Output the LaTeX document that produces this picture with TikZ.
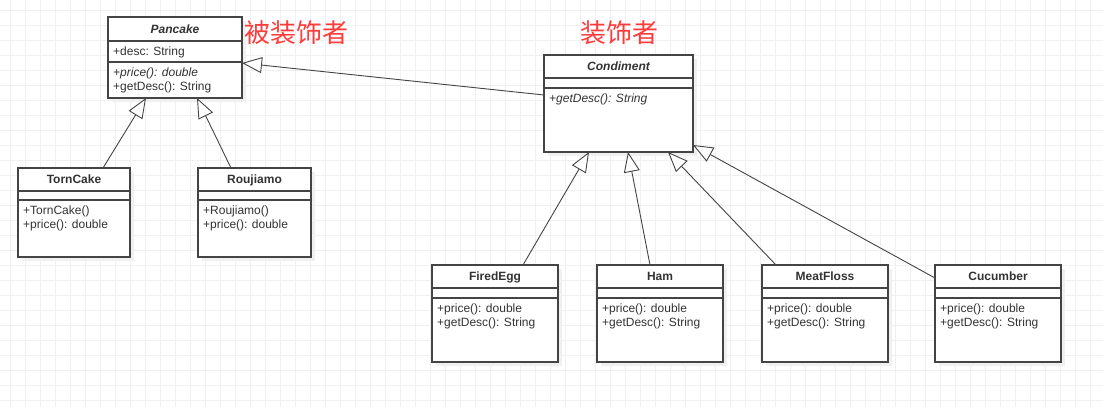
\documentclass[tikz,border=0pt]{standalone}
\usepackage{fontspec}
\setmainfont{Liberation Sans}
\newfontfamily\cjk{Noto Sans CJK SC}
\usetikzlibrary{positioning,calc,arrows.meta,shadows}
\definecolor{umlline}{HTML}{444444}
\definecolor{umltext}{HTML}{333333}
\definecolor{notered}{HTML}{FF3B3B}
\definecolor{gridgray}{HTML}{F0F0F0}

\begin{document}
\begin{tikzpicture}[x=1pt,y=-1pt,
				classbox/.style={draw=umlline,line width=1.1pt,fill=white,anchor=north west,inner sep=0pt,outer sep=0pt,
					drop shadow={shadow xshift=4pt,shadow yshift=-4pt,fill=black!6,opacity=1}},
				divider/.style={draw=umlline,line width=1.1pt},
				classname/.style={font=\fontsize{12}{14}\selectfont\bfseries,text=umltext,inner sep=0pt,text height=9pt,text depth=2.5pt},
				members/.style={font=\fontsize{12}{14}\selectfont,text=umltext,align=left,inner sep=0pt},
				inherit/.style={draw=umlline,line width=0.9pt,-{Triangle[length=20pt,width=16pt,fill=white]}},
				note/.style={font=\cjk\fontsize{26}{30}\selectfont,text=notered,inner sep=0pt},
				gridline/.style={draw=gridgray,line width=1pt}]
				\fill[white] (0,0) rectangle (1103,407);
				\useasboundingbox (0,0) rectangle (1103,407);
				\foreach \gx in {10,25,...,1100} \draw[gridline] (\gx,0) -- (\gx,407);
				\foreach \gy in {10,25,...,400} \draw[gridline] (0,\gy) -- (1103,\gy);

				% component side
				\node[classbox,minimum width=134pt,minimum height=81pt] (pancake) at (108,17) {};
				\draw[divider] ([yshift=-24pt]pancake.north west) -- ([yshift=-24pt]pancake.north east)
					([yshift=-45pt]pancake.north west) -- ([yshift=-45pt]pancake.north east);
				\node[classname] (pancakename) at ([yshift=-13pt]pancake.north) {\itshape Pancake};
				\node[members] (pancakeattr) [below right=29.5pt and 5pt of pancake.north west] {+desc: String};
				\node[members] (pancakeops)  [below right=50.5pt and 5pt of pancake.north west] {{\itshape +price(): double}\\+getDesc(): String};

				\node[classbox,minimum width=112pt,minimum height=89pt] (torncake) at (18,168) {};
				\draw[divider] ([yshift=-23pt]torncake.north west) -- ([yshift=-23pt]torncake.north east)
					([yshift=-32pt]torncake.north west) -- ([yshift=-32pt]torncake.north east);
				\node[classname] (torncakename) at ([yshift=-12.5pt]torncake.north) {TornCake};
				\node[members] (torncakeops) [below right=37.5pt and 5pt of torncake.north west] {+TornCake()\\+price(): double};

				\node[classbox,minimum width=113pt,minimum height=89pt] (roujiamo) at (198,168) {};
				\draw[divider] ([yshift=-23pt]roujiamo.north west) -- ([yshift=-23pt]roujiamo.north east)
					([yshift=-32pt]roujiamo.north west) -- ([yshift=-32pt]roujiamo.north east);
				\node[classname] (roujiamoname) at ([yshift=-12.5pt]roujiamo.north) {Roujiamo};
				\node[members] (roujiamoops) [below right=37.5pt and 5pt of roujiamo.north west] {+Roujiamo()\\+price(): double};

				% decorator side
				\node[classbox,minimum width=149pt,minimum height=97pt] (condiment) at (544,55) {};
				\draw[divider] ([yshift=-23pt]condiment.north west) -- ([yshift=-23pt]condiment.north east)
					([yshift=-33pt]condiment.north west) -- ([yshift=-33pt]condiment.north east);
				\node[classname] (condimentname) at ([yshift=-12.5pt]condiment.north) {\itshape Condiment};
				\node[members] (condimentops) [below right=38.5pt and 5pt of condiment.north west] {\itshape +getDesc(): String};

				\node[classbox,minimum width=126pt,minimum height=97pt] (firedegg) at (432,265) {};
				\draw[divider] ([yshift=-23pt]firedegg.north west) -- ([yshift=-23pt]firedegg.north east)
					([yshift=-33pt]firedegg.north west) -- ([yshift=-33pt]firedegg.north east);
				\node[classname] (firedeggname) at ([yshift=-12.5pt]firedegg.north) {FiredEgg};
				\node[members] (firedeggops) [below right=38.5pt and 5pt of firedegg.north west] {+price(): double\\+getDesc(): String};

				\node[classbox,minimum width=126pt,minimum height=97pt] (ham) at (597,265) {};
				\draw[divider] ([yshift=-23pt]ham.north west) -- ([yshift=-23pt]ham.north east)
					([yshift=-33pt]ham.north west) -- ([yshift=-33pt]ham.north east);
				\node[classname] (hamname) at ([yshift=-12.5pt]ham.north) {Ham};
				\node[members] (hamops) [below right=38.5pt and 5pt of ham.north west] {+price(): double\\+getDesc(): String};

				\node[classbox,minimum width=126pt,minimum height=97pt] (meatfloss) at (762,265) {};
				\draw[divider] ([yshift=-23pt]meatfloss.north west) -- ([yshift=-23pt]meatfloss.north east)
					([yshift=-33pt]meatfloss.north west) -- ([yshift=-33pt]meatfloss.north east);
				\node[classname] (meatflossname) at ([yshift=-12.5pt]meatfloss.north) {MeatFloss};
				\node[members] (meatflossops) [below right=38.5pt and 5pt of meatfloss.north west] {+price(): double\\+getDesc(): String};

				\node[classbox,minimum width=126pt,minimum height=97pt] (cucumber) at (935,265) {};
				\draw[divider] ([yshift=-23pt]cucumber.north west) -- ([yshift=-23pt]cucumber.north east)
					([yshift=-33pt]cucumber.north west) -- ([yshift=-33pt]cucumber.north east);
				\node[classname] (cucumbername) at ([yshift=-12.5pt]cucumber.north) {Cucumber};
				\node[members] (cucumberops) [below right=38.5pt and 5pt of cucumber.north west] {+price(): double\\+getDesc(): String};

				\node[note] (decoratedlabel) at (296,33) {被装饰者};
				\node[note] (decoratorlabel) at (619,33) {装饰者};

				% generalisations
				\draw[inherit] ([xshift=29pt]torncake.north)      -- ([xshift=-29pt]pancake.south);
				\draw[inherit] ([xshift=-23.5pt]roujiamo.north)   -- ([xshift=22pt]pancake.south);
				\draw[inherit] ([yshift=8.5pt]condiment.west)     -- ([yshift=-5.5pt]pancake.east);
				\draw[inherit] ([xshift=28pt]firedegg.north)      -- ([xshift=-29.5pt]condiment.south);
				\draw[inherit] ([xshift=-10pt]ham.north)          -- ([xshift=9.5pt]condiment.south);
				\draw[inherit] ([xshift=-49pt]meatfloss.north)    -- ([xshift=49.5pt]condiment.south);
				\draw[inherit] ([yshift=-13pt]cucumber.north west) -- ([yshift=7pt]condiment.south east);
			\end{tikzpicture}
\end{document}
